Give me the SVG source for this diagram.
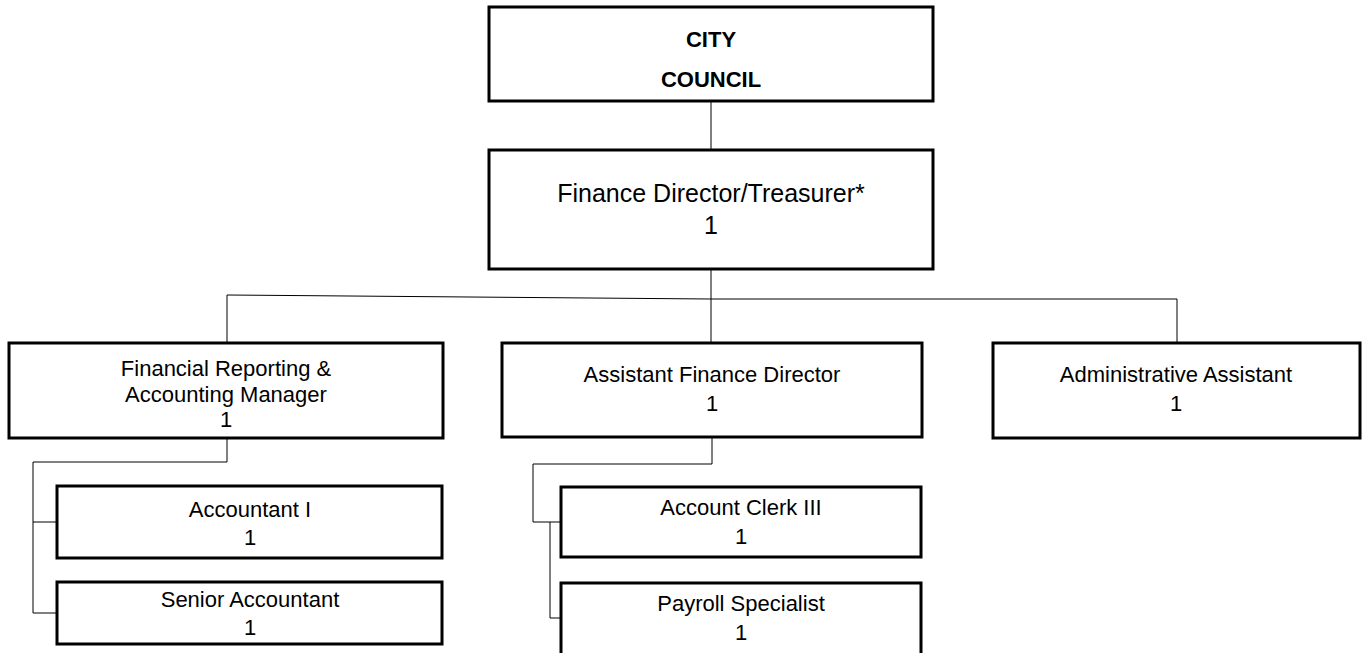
<svg xmlns="http://www.w3.org/2000/svg" width="1363" height="653" viewBox="0 0 1363 653">
  <style>
    .box { fill: #ffffff; stroke: #000000; stroke-width: 3; }
    .wire { fill: none; stroke: #000000; stroke-width: 1; }
    .lbl { font-family: "Liberation Sans", Arial, sans-serif; font-size: 22px; fill: #000000; text-anchor: middle; }
    .big { font-size: 25px; }
    .bold { font-weight: bold; font-size: 22px; }
  </style>
  <rect x="0" y="0" width="1363" height="653" fill="#ffffff"/>

  <!-- reporting lines -->
  <g id="connectors">
    <path class="wire" d="M711,101 V150"/>
    <path class="wire" d="M711,269 V343"/>
    <path class="wire" d="M227,343 V295 L711,299 H1177 V343"/>
    <path class="wire" d="M227,438 V462 H33 V613 H57"/>
    <path class="wire" d="M33,522 H57"/>
    <path class="wire" d="M712,437 V464 H533 V522 H561"/>
    <path class="wire" d="M550,522 V618 H561"/>
  </g>

  <g id="city-council">
    <rect class="box" x="489" y="7" width="444" height="94"/>
    <text class="lbl bold" x="711" y="47">CITY</text>
    <text class="lbl bold" x="711" y="87">COUNCIL</text>
  </g>

  <g id="finance-director">
    <rect class="box" x="489" y="150" width="444" height="119"/>
    <text class="lbl big" x="711" y="202">Finance Director/Treasurer*</text>
    <text class="lbl big" x="711" y="234">1</text>
  </g>

  <g id="financial-reporting-manager">
    <rect class="box" x="9" y="343" width="434" height="95"/>
    <text class="lbl" x="226" y="376">Financial Reporting &amp;</text>
    <text class="lbl" x="226" y="402">Accounting Manager</text>
    <text class="lbl" x="226" y="427">1</text>
  </g>

  <g id="assistant-finance-director">
    <rect class="box" x="502" y="343" width="420" height="94"/>
    <text class="lbl" x="712" y="382">Assistant Finance Director</text>
    <text class="lbl" x="712" y="411">1</text>
  </g>

  <g id="administrative-assistant">
    <rect class="box" x="993" y="343" width="367" height="95"/>
    <text class="lbl" x="1176" y="382">Administrative Assistant</text>
    <text class="lbl" x="1176" y="411">1</text>
  </g>

  <g id="accountant-i">
    <rect class="box" x="57" y="486" width="385" height="72"/>
    <text class="lbl" x="250" y="517">Accountant I</text>
    <text class="lbl" x="250" y="545">1</text>
  </g>

  <g id="senior-accountant">
    <rect class="box" x="57" y="582" width="385" height="62"/>
    <text class="lbl" x="250" y="607">Senior Accountant</text>
    <text class="lbl" x="250" y="635">1</text>
  </g>

  <g id="account-clerk-iii">
    <rect class="box" x="561" y="487" width="360" height="70"/>
    <text class="lbl" x="741" y="515">Account Clerk III</text>
    <text class="lbl" x="741" y="544">1</text>
  </g>

  <g id="payroll-specialist">
    <rect class="box" x="561" y="583" width="360" height="80"/>
    <text class="lbl" x="741" y="611">Payroll Specialist</text>
    <text class="lbl" x="741" y="640">1</text>
  </g>
</svg>
